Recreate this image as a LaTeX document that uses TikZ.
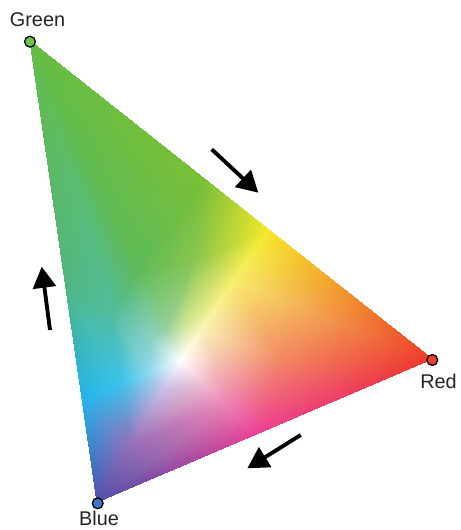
\documentclass[tikz,border=0pt]{standalone}
\usepackage{fontspec}
\setmainfont{Liberation Sans}
\usepackage{pgfplots}
\pgfplotsset{compat=1.18}
\usetikzlibrary{arrows.meta}

\definecolor{dotgreen}{RGB}{110,195,75}
\definecolor{dotred}{RGB}{236,64,44}
\definecolor{dotblue}{RGB}{72,112,195}
\definecolor{labelgray}{RGB}{35,35,35}

\tikzset{
  vertexdot/.style={circle, draw=black, line width=0.7pt, inner sep=0pt, minimum size=6.2pt},
  vertexlabel/.style={font=\fontsize{11.3}{13}\selectfont, text=labelgray, anchor=base, inner sep=0pt},
  flow/.style={-{Triangle[length=12pt,width=13pt]}, line width=2.2pt},
}

\begin{document}
\begin{tikzpicture}[x=0.02cm, y=-0.02cm]
\useasboundingbox (0,0) rectangle (460,530);

% colour triangle, shaded mesh (outer edge, two rings, white centre)
\begin{axis}[hide axis, anchor=origin, at={(0,0)}, disabledatascaling,
  x=0.02cm, y=0.02cm, xmin=0, xmax=460, ymin=-530, ymax=0, clip=false]
\addplot[patch, shader=interp, mesh/color input=explicit,
  table/row sep=\\,
  patch table={
    0 1 8\\ 1 9 8\\ 8 9 16\\ 9 17 16\\ 16 17 24\\
    1 2 9\\ 2 10 9\\ 9 10 17\\ 10 18 17\\ 17 18 24\\
    2 3 10\\ 3 11 10\\ 10 11 18\\ 11 19 18\\ 18 19 24\\
    3 4 11\\ 4 12 11\\ 11 12 19\\ 12 20 19\\ 19 20 24\\
    4 5 12\\ 5 13 12\\ 12 13 20\\ 13 21 20\\ 20 21 24\\
    5 6 13\\ 6 14 13\\ 13 14 21\\ 14 22 21\\ 21 22 24\\
    6 7 14\\ 7 15 14\\ 14 15 22\\ 15 23 22\\ 22 23 24\\
    7 0 15\\ 0 8 15\\ 15 8 23\\ 8 16 23\\ 23 16 24\\
  }] table[meta=c] {
  x y c\\
  30 -41 rgb255=100,189,70\\
  205 -179.4 rgb255=122,191,55\\
  268 -229.3 rgb255=245,232,40\\
  432 -359 rgb255=237,58,42\\
  258 -433.3 rgb255=236,65,150\\
  97 -502 rgb255=80,80,170\\
  82.2 -400 rgb255=35,180,235\\
  64.6 -279 rgb255=82,182,125\\
  138.2 -269.6 rgb255=95,186,90\\
  194.2 -260.7 rgb255=135,198,80\\
  233.2 -281.6 rgb255=248,238,110\\
  281.4 -359.6 rgb255=243,135,100\\
  227.2 -404 rgb255=238,130,180\\
  130.6 -445.2 rgb255=150,110,185\\
  121.7 -384 rgb255=60,195,235\\
  111.2 -311.4 rgb255=80,188,155\\
  166 -328.4 rgb255=150,208,155\\
  185.6 -325.3 rgb255=210,230,150\\
  200.4 -330.9 rgb255=250,245,190\\
  216 -360 rgb255=245,195,180\\
  206.4 -384.2 rgb255=242,185,205\\
  163.2 -390.1 rgb255=200,190,230\\
  148.6 -373.1 rgb255=140,215,240\\
  152.3 -340 rgb255=140,210,200\\
  181 -360 rgb255=255,255,255\\
};
\end{axis}

% corners
\node[vertexdot, fill=dotgreen] (green) at (30,41.7) {};
\node[vertexdot, fill=dotred] (red) at (432.3,360) {};
\node[vertexdot, fill=dotblue] (blue) at (97.7,503.3) {};

\node[vertexlabel] (greenlabel) at (37.5,27) {Green};
\node[vertexlabel] (redlabel) at (438.5,388) {Red};
\node[vertexlabel] (bluelabel) at (99,525) {Blue};

% direction arrows
\coordinate (topfrom) at (211.7,149.3);
\coordinate (topto) at (258.3,192.7);
\coordinate (leftfrom) at (50,330);
\coordinate (leftto) at (41.7,266.7);
\coordinate (bottomfrom) at (300.7,435);
\coordinate (bottomto) at (247.3,468.3);

\draw[flow] (topfrom) -- (topto);
\draw[flow] (leftfrom) -- (leftto);
\draw[flow] (bottomfrom) -- (bottomto);
\end{tikzpicture}
\end{document}
